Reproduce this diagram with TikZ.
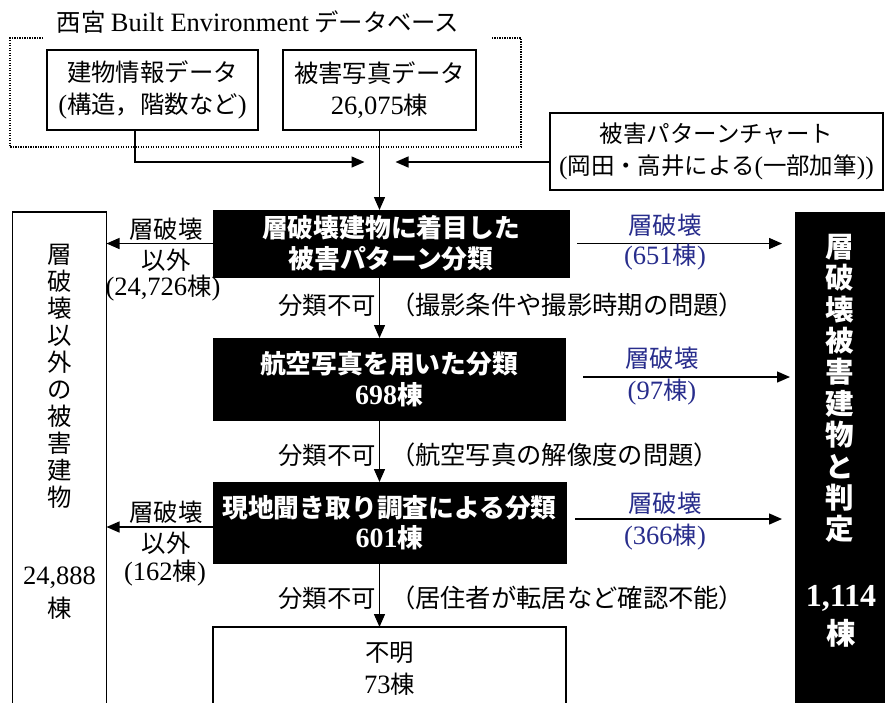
\documentclass[tikz,border=0pt]{standalone}
\usepackage{fontspec}
\setmainfont{Liberation Serif}
\newfontfamily\jp{Noto Sans CJK JP}[Scale=0.92]
\usetikzlibrary{arrows.meta,calc}
\definecolor{lblue}{RGB}{40,45,140}
\newcommand{\nm}[1]{{\rmfamily #1}}
\begin{document}
\begin{tikzpicture}[x=1pt,y=-1pt,
  every node/.style={inner sep=0pt, outer sep=0pt},
  wbox/.style={draw, line width=1.4pt, align=center, font={\jp\fontsize{26.5}{32}\selectfont}},
  bbox/.style={fill=black, draw=black, text=white, align=center, font={\jp\bfseries\fontsize{28}{30.5}\selectfont}},
  txt/.style={font={\jp\fontsize{26.5}{31}\selectfont}},
  ptxt/.style={font={\jp\fontsize{27.5}{31}\selectfont}},
  btxt/.style={txt, text=lblue},
  arr/.style={line width=1.4pt, -{Triangle[length=13pt,width=11pt]}}]
\useasboundingbox (0,0) rectangle (885,702);

% database frame
\node[txt] (title) at (258,22) {西宮 \nm{Built Environment} データベース};
\draw[line width=1.2pt, dash pattern=on 1.2pt off 1.3pt] (43,38) -| (10,147) -| (521,38) -- (491,38);

\node[wbox, minimum width=211pt, minimum height=80pt] (b1) at (152.5,90) {建物情報データ\\\nm{(}構造，階数など\nm{)}};
\node[wbox, minimum width=193pt, minimum height=80pt] (b2) at (379.5,90) {被害写真データ\\\nm{26,075}棟};
\node[wbox, minimum width=333pt, minimum height=77pt, font={\jp\fontsize{25.5}{32}\selectfont}] (pc) at (716.5,151.5) {被害パターンチャート\\\nm{(}岡田・高井による\nm{(}一部加筆\nm{))}};

\coordinate (j) at (379.5,162);
\draw[arr] ([xshift=-17.5pt]b1.south) |- ([xshift=-15pt]j);
\draw[arr] (pc.west |- j) -- ([xshift=16pt]j);

% main flow
\node[bbox, minimum width=356pt, minimum height=67pt] (k1) at (391,243.5) {層破壊建物に着目した\\被害パターン分類};
\node[bbox, minimum width=352pt, minimum height=82pt] (k2) at (389,379) {航空写真を用いた分類\\\nm{698}棟};
\node[bbox, minimum width=353pt, minimum height=81pt] (k3) at (389.5,522.5) {現地聞き取り調査による分類\\\nm{601}棟};
\node[wbox, minimum width=353pt, minimum height=83pt] (unk) at (389.5,668.5) {不明\\\nm{73}棟};

\draw[arr] (b2.south) -- (b2.south |- k1.north);
\draw[arr] (k1.south -| b2.south) -- (k2.north -| b2.south);
\draw[arr] (k2.south -| b2.south) -- (k3.north -| b2.south);
\draw[arr] (k3.south -| b2.south) -- (unk.north -| b2.south);

\node[txt, anchor=east] (n1) at (376,305) {分類不可};
\node[ptxt, anchor=west] (r1) at (390,305) {（撮影条件や撮影時期の問題）};
\node[txt, anchor=east] (n2) at (376,455) {分類不可};
\node[ptxt, anchor=west] (r2) at (390,455) {（航空写真の解像度の問題）};
\node[txt, anchor=east] (n3) at (376,598) {分類不可};
\node[ptxt, anchor=west] (r3) at (390,598) {（居住者が転居など確認不能）};

% left column
\node[draw, line width=1.4pt, minimum width=94pt, minimum height=500pt] (L) at (59.5,462) {};
\node[align=center, font={\jp\fontsize{26.5}{27}\selectfont}] (Lt) at (59.5,376.5) {層\\破\\壊\\以\\外\\の\\被\\害\\建\\物};
\node[align=center, font={\jp\fontsize{26.5}{33}\selectfont}] (Ln) at (59.5,593.5) {\nm{24,888}\\棟};

\draw[arr] (k1.west) -- (k1.west -| L.east);
\draw[arr] ([yshift=-4.5pt]k3.west) -- ([yshift=-4.5pt]k3.west -| L.east);
\node[txt] (la1) at (166,229) {層破壊};
\node[txt] (lb1) at (166,260) {以外};
\node[txt] (lc1) at (163,288) {\nm{(24,726}棟\nm{)}};
\node[txt] (la2) at (166,512) {層破壊};
\node[txt] (lb2) at (166,543) {以外};
\node[txt] (lc2) at (165,573) {\nm{(162}棟\nm{)}};

% right column
\node[fill=black, minimum width=95pt, minimum height=500pt] (R) at (842.5,462) {};
\node[align=center, text=white, font={\jp\bfseries\fontsize{31}{31.4}\selectfont}] (Rt) at (840,388.5) {層\\破\\壊\\被\\害\\建\\物\\と\\判\\定};
\node[align=center, text=white, font={\jp\bfseries\fontsize{32}{38}\selectfont}] (Rn) at (841,616) {\nm{1,114}\\棟};

\draw[arr] ([xshift=8pt]k1.east) -- ([xshift=-13pt]R.west |- k1.east);
\draw[arr] ([xshift=18pt,yshift=2pt]k2.east) -- ([xshift=-5pt,yshift=2pt]R.west |- k2.east);
\draw[arr] ([xshift=9pt,yshift=3.5pt]k3.east) -- ([xshift=-13pt,yshift=3.5pt]R.west |- k3.east);

\node[btxt] (ra1) at (665,225) {層破壊};
\node[btxt] (rb1) at (665,257) {\nm{(651}棟\nm{)}};
\node[btxt] (ra2) at (662,358) {層破壊};
\node[btxt] (rb2) at (662,392) {\nm{(97}棟\nm{)}};
\node[btxt] (ra3) at (665,503) {層破壊};
\node[btxt] (rb3) at (665,537) {\nm{(366}棟\nm{)}};
\end{tikzpicture}
\end{document}
